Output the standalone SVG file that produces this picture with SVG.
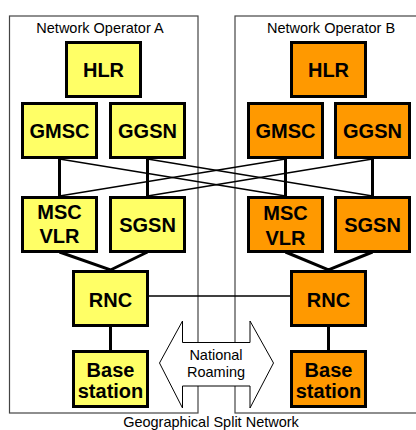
<svg xmlns="http://www.w3.org/2000/svg" width="416" height="430" viewBox="0 0 416 430">
<style>
.op{fill:none;stroke:#444;stroke-width:1.2}
.na rect{fill:#FFFF66;stroke:#000;stroke-width:3}
.nb rect{fill:#FF9900;stroke:#000;stroke-width:3}
.lbl{font-family:"Liberation Sans",Arial,sans-serif;font-weight:bold;font-size:20px;text-anchor:middle;fill:#000}
.sm{font-family:"Liberation Sans",Arial,sans-serif;font-size:14.5px;text-anchor:middle;fill:#000}
.thick{stroke:#000;stroke-width:3;fill:none}
.thin{stroke:#000;stroke-width:1.3;fill:none}
</style>
<rect width="416" height="430" fill="#fff"/>
<g id="operatorA"><rect class="op" x="9.5" y="16" width="188.5" height="397"/><text class="sm" x="100" y="33">Network Operator A</text></g>
<g id="operatorB"><rect class="op" x="235" y="16" width="185" height="397"/><text class="sm" x="331" y="33">Network Operator B</text></g>
<g id="connectors">
<line class="thin" x1="59.5" y1="159" x2="285.5" y2="196"/>
<line class="thin" x1="147.5" y1="159" x2="372.5" y2="196"/>
<line class="thin" x1="285.5" y1="159" x2="59.5" y2="196"/>
<line class="thin" x1="372.5" y1="159" x2="147.5" y2="196"/>
<line class="thick" x1="59.5" y1="159" x2="59.5" y2="196"/>
<line class="thick" x1="147.5" y1="159" x2="147.5" y2="196"/>
<line class="thick" x1="285.5" y1="159" x2="285.5" y2="196"/>
<line class="thick" x1="372.5" y1="159" x2="372.5" y2="196"/>
<polyline class="thick" points="59.5,252 110.5,270 147.5,252"/>
<polyline class="thick" points="285.5,252 328.5,270 372.5,252"/>
<line class="thick" x1="110.5" y1="327" x2="110.5" y2="350"/>
<line class="thick" x1="328.5" y1="327" x2="328.5" y2="350"/>
<line class="thin" x1="149" y1="296" x2="290" y2="296"/>
</g>
<g id="roaming"><path d="M159.5,363 L182.5,321 L182.5,342.5 L250,342.5 L250,321 L273.5,363 L250,408 L250,386 L182.5,386 L182.5,408 Z" fill="#fff" stroke="#000" stroke-width="1"/>
<text class="sm" x="216" y="360">National</text><text class="sm" x="216" y="377">Roaming</text></g>
<g id="hlrA" class="na"><rect x="66.5" y="42.5" width="74" height="54"/><text class="lbl" x="103.5" y="77">HLR</text></g>
<g id="gmscA" class="na"><rect x="22.5" y="103.5" width="74" height="54"/><text class="lbl" x="59.5" y="138">GMSC</text></g>
<g id="ggsnA" class="na"><rect x="110.5" y="103.5" width="74" height="54"/><text class="lbl" x="147.5" y="138">GGSN</text></g>
<g id="mscA" class="na"><rect x="22.5" y="197.5" width="74" height="54"/><text class="lbl" x="59.5" y="219">MSC</text><text class="lbl" x="59.5" y="243">VLR</text></g>
<g id="sgsnA" class="na"><rect x="110.5" y="197.5" width="74" height="54"/><text class="lbl" x="147.5" y="231.5">SGSN</text></g>
<g id="rncA" class="na"><rect x="73.5" y="271.5" width="74" height="54"/><text class="lbl" x="110.5" y="306.5">RNC</text></g>
<g id="bsA" class="na"><rect x="73.5" y="351.5" width="74" height="55"/><text class="lbl" x="110.5" y="376.5">Base</text><text class="lbl" x="110.5" y="397.5">station</text></g>
<g id="hlrB" class="nb"><rect x="291.5" y="42.5" width="74" height="54"/><text class="lbl" x="328.5" y="77">HLR</text></g>
<g id="gmscB" class="nb"><rect x="248.5" y="103.5" width="74" height="54"/><text class="lbl" x="285.5" y="138">GMSC</text></g>
<g id="ggsnB" class="nb"><rect x="335.5" y="103.5" width="74" height="54"/><text class="lbl" x="372.5" y="138">GGSN</text></g>
<g id="mscB" class="nb"><rect x="248.5" y="197.5" width="74" height="54"/><text class="lbl" x="285.5" y="220">MSC</text><text class="lbl" x="285.5" y="244.5">VLR</text></g>
<g id="sgsnB" class="nb"><rect x="335.5" y="197.5" width="74" height="54"/><text class="lbl" x="372.5" y="231.5">SGSN</text></g>
<g id="rncB" class="nb"><rect x="291.5" y="271.5" width="74" height="54"/><text class="lbl" x="328.5" y="306.5">RNC</text></g>
<g id="bsB" class="nb"><rect x="291.5" y="351.5" width="74" height="55"/><text class="lbl" x="328.5" y="376.5">Base</text><text class="lbl" x="328.5" y="397.5">station</text></g>
<text class="sm" x="211" y="426.5">Geographical Split Network</text>
</svg>
